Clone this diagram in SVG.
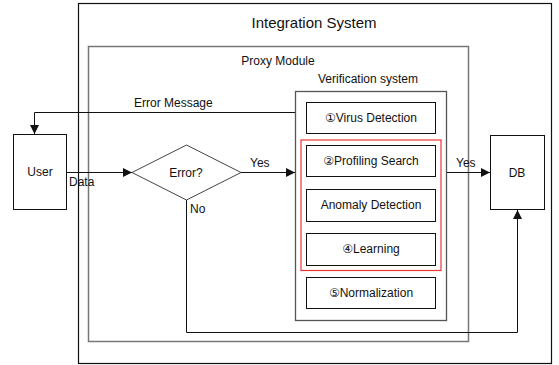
<svg xmlns="http://www.w3.org/2000/svg" width="559" height="365" viewBox="0 0 559 365">
<defs>
<style>
text{font-family:"Liberation Sans","DejaVu Sans",Arial,sans-serif;font-size:12px;fill:#111}
.box{fill:#fff;stroke:#111;stroke-width:1}
.frame{fill:none;stroke:#111;stroke-width:1.2}
.line{fill:none;stroke:#111;stroke-width:1}
.c{text-anchor:middle}
</style>
<marker id="arr" viewBox="0 0 10 10" refX="10" refY="5" markerWidth="9" markerHeight="9" markerUnits="userSpaceOnUse" orient="auto">
<path d="M0,0 L10,5 L0,10 Z" fill="#111"/>
</marker>
</defs>
<rect width="559" height="365" fill="#fff"/>
<g id="integration-system">
<rect class="frame" x="78.5" y="3.5" width="473" height="360"/>
<text class="c" x="314" y="28" style="font-size:15px">Integration System</text>
</g>
<g id="proxy-module">
<rect x="88.5" y="46.5" width="380" height="295" fill="none" stroke="#777" stroke-width="1.5"/>
<text class="c" x="278" y="65">Proxy Module</text>
</g>
<g id="verification-system">
<rect x="295.5" y="91.5" width="151" height="229" fill="none" stroke="#555" stroke-width="1.3"/>
<text class="c" x="368" y="83">Verification system</text>
</g>
<g id="red-group">
<rect x="301" y="140" width="140" height="130.5" fill="none" stroke="#e33" stroke-width="1.2"/>
</g>
<g id="virus-detection">
<rect class="box" x="306.5" y="102.5" width="129" height="31"/>
<text class="c" x="371" y="122">①Virus Detection</text>
</g>
<g id="profiling-search">
<rect class="box" x="306.5" y="145.5" width="129" height="31"/>
<text class="c" x="371" y="165">②Profiling Search</text>
</g>
<g id="anomaly-detection">
<rect class="box" x="306.5" y="189.5" width="129" height="32"/>
<text class="c" x="371" y="209">Anomaly Detection</text>
</g>
<g id="learning">
<rect class="box" x="306.5" y="233.5" width="129" height="32"/>
<text class="c" x="371" y="253">④Learning</text>
</g>
<g id="normalization">
<rect class="box" x="306.5" y="277.5" width="129" height="31"/>
<text class="c" x="371" y="297">⑤Normalization</text>
</g>
<g id="user">
<rect class="box" x="13.5" y="134.5" width="53" height="75"/>
<text class="c" x="40" y="176">User</text>
</g>
<g id="db">
<rect class="box" x="490.5" y="135.5" width="54" height="74"/>
<text class="c" x="517" y="177">DB</text>
</g>
<g id="error-decision">
<polygon points="132,172.5 186.5,145 241,172.5 186.5,200" fill="#fff" stroke="#444" stroke-width="1"/>
<text class="c" x="186" y="177">Error?</text>
</g>
<g id="connectors">
<polyline class="line" points="295,112.5 34.5,112.5 34.5,134" marker-end="url(#arr)"/>
<text x="134" y="107">Error Message</text>
<line class="line" x1="67" y1="172.5" x2="132" y2="172.5" marker-end="url(#arr)"/>
<text x="69" y="186">Data</text>
<line class="line" x1="241" y1="172.5" x2="295" y2="172.5" marker-end="url(#arr)"/>
<text x="250" y="167">Yes</text>
<polyline class="line" points="186.5,200 186.5,332.5 517.5,332.5 517.5,210" marker-end="url(#arr)"/>
<text x="190" y="213">No</text>
<line class="line" x1="447" y1="172.5" x2="490" y2="172.5" marker-end="url(#arr)"/>
<text x="456" y="167">Yes</text>
</g>
</svg>
